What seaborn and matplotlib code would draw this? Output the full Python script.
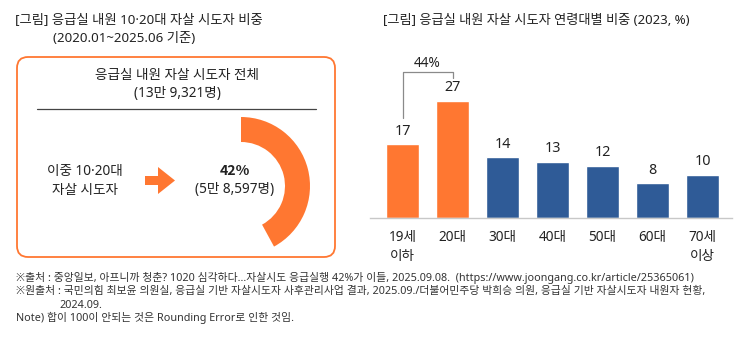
import matplotlib
matplotlib.use("Agg")
import matplotlib.pyplot as plt
import seaborn as sns
from matplotlib.patches import FancyBboxPatch, Polygon

# ---- data ----
age_groups = ["19세\n이하", "20대", "30대", "40대", "50대", "60대", "70세\n이상"]
age_share = [17, 27, 14, 13, 12, 8, 10]
youth_groups = 2  # first two groups are the 10-20s

total_visits = 139321
youth_visits = 58597
youth_share_pct = 42

left_title = "[그림] 응급실 내원 10·20대 자살 시도자 비중"
left_subtitle = "(2020.01~2025.06 기준)"
right_title = "[그림] 응급실 내원 자살 시도자 연령대별 비중 (2023, %)"
box_header = "응급실 내원 자살 시도자 전체"
box_total = "(13만 9,321명)"
box_left_text = "이중 10·20대\n자살 시도자"
box_youth_count = "(5만 8,597명)"
footnotes = [
    "※출처 : 중앙일보, 아프니까 청춘? 1020 심각하다…자살시도 응급실행 42%가 이들, 2025.09.08.  (https://www.joongang.co.kr/article/25365061)",
    "※원출처 : 국민의힘 최보윤 의원실, 응급실 기반 자살시도자 사후관리사업 결과, 2025.09./더불어민주당 박희승 의원, 응급실 기반 자살시도자 내원자 현황,",
    "2024.09.",
    "Note) 합이 100이 안되는 것은 Rounding Error로 인한 것임.",
]

ORANGE = "#FF7731"
BLUE = "#2F5B97"
TEXT = "#222222"

sns.set_theme(style="white")
plt.rcParams["font.family"] = ["Noto Sans", "Noto Sans CJK KR", "DejaVu Sans"]

W, H = 742, 342
fig = plt.figure(figsize=(W / 100, H / 100), dpi=100)
fig.patch.set_facecolor("white")


def px_axes(x0, y0, x1, y1):
    """Axes placed by pixel box (top-left origin)."""
    return fig.add_axes([x0 / W, 1 - y1 / H, (x1 - x0) / W, (y1 - y0) / H])


# ---- overlay in pixel coordinates ----
ov = fig.add_axes([0, 0, 1, 1])
ov.set_xlim(0, W)
ov.set_ylim(H, 0)
ov.axis("off")

ov.text(15, 20, left_title, fontsize=9.6, color=TEXT, va="center", ha="left")
ov.text(53, 38, left_subtitle, fontsize=9.6, color=TEXT, va="center", ha="left")
ov.text(383, 20, right_title, fontsize=9.5, color=TEXT, va="center", ha="left")

# rounded frame
ov.add_patch(FancyBboxPatch((17, 57), 318, 200,
                            boxstyle="round,pad=0,rounding_size=11",
                            fc="none", ec=ORANGE, lw=1.3))
ov.text(177, 76, box_header, fontsize=9.8, color=TEXT, ha="center", va="center")
ov.text(177, 93, box_total, fontsize=9.8, color=TEXT, ha="center", va="center")
ov.plot([37, 316], [109, 109], color="#444444", lw=0.9)

ov.text(85, 181, box_left_text, fontsize=9.8, color=TEXT, ha="center",
        va="center", linespacing=1.4)
ov.add_patch(Polygon([(145, 176), (158, 176), (158, 167), (175, 180.5),
                      (158, 194), (158, 185), (145, 185)],
                     closed=True, fc=ORANGE, ec="none"))
ov.text(235, 171, f"{youth_share_pct}%", fontsize=10.2, fontweight="bold",
        family=["Noto Sans CJK KR", "DejaVu Sans"],
        color=TEXT, ha="center", va="center")
ov.text(235, 189, box_youth_count, fontsize=9.8, color=TEXT, ha="center", va="center")

foot_x = [16, 16, 59, 16]
foot_y = [278, 291.5, 305, 318]
for line, fx, fy in zip(footnotes, foot_x, foot_y):
    ov.text(fx, fy, line, fontsize=7.8, color="#333333", ha="left", va="center")

# ---- donut (share of youth visits) ----
dax = px_axes(241 - 69, 186 - 69, 241 + 69, 186 + 69)
dax.pie([youth_visits, total_visits - youth_visits], colors=[ORANGE, "none"],
        startangle=90, counterclock=False, radius=1.0,
        wedgeprops=dict(width=25 / 69, edgecolor="none"))
dax.set_xlim(-1, 1)
dax.set_ylim(-1, 1)
dax.set_aspect("equal")
dax.axis("off")

# ---- bar chart ----
px_per_unit = 4.34
base_y = 218
top_y = 55
bx = px_axes(370, top_y, 732, base_y)
palette = [ORANGE] * youth_groups + [BLUE] * (len(age_groups) - youth_groups)
sns.barplot(x=age_groups, y=age_share, hue=age_groups, palette=palette,
            width=0.66, legend=False, ax=bx, saturation=1)
bx.set_xlim((370 - 402.5) / 50, (732 - 402.5) / 50)
bx.set_ylim(0, (base_y - top_y) / px_per_unit)
bx.set_facecolor("none")
for s in ["top", "right", "left"]:
    bx.spines[s].set_visible(False)
bx.spines["bottom"].set_color("#c8c8c8")
bx.spines["bottom"].set_linewidth(1.0)
bx.set_yticks([])
bx.set_xlabel("")
bx.set_ylabel("")
bx.tick_params(axis="x", length=0, pad=9, labelsize=9.8, labelcolor=TEXT)
for lab in bx.get_xticklabels():
    lab.set_linespacing(1.35)
    lab.set_verticalalignment("top")

for i, v in enumerate(age_share):
    bx.annotate(f"{v}", (i, v), xytext=(0, 9.5), textcoords="offset points",
                ha="center", va="center", fontsize=10.3, color=TEXT)

# bracket over the two youngest groups
youth_sum = sum(age_share[:youth_groups])
top_line = age_share[1] + 6.6
bx.plot([0, 0, 1, 1], [age_share[0] + 6.0, top_line, top_line, age_share[1] + 5.3],
        color="#8a8a8a", lw=0.9, clip_on=False)
bx.text(0.5, top_line + 2.1, f"{youth_sum}%", ha="center", va="center",
        fontsize=9.8, color=TEXT, clip_on=False)

fig.savefig("out.png", dpi=100, facecolor="white")
